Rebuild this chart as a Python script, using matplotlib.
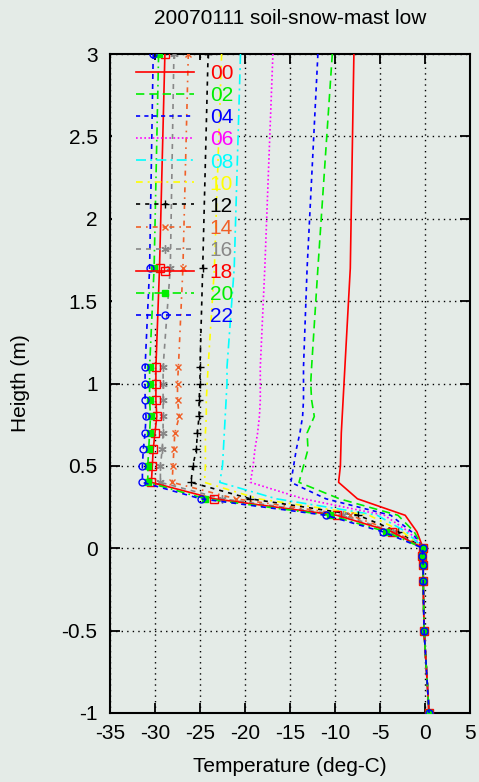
import matplotlib
matplotlib.use("Agg")
import matplotlib.pyplot as plt
from matplotlib.patches import Rectangle

plt.rcParams['font.family'] = ['Liberation Sans', 'DejaVu Sans']

BG = '#e4ebe7'

heights = [3.0, 1.7, 1.1, 1.0, 0.9, 0.8, 0.7, 0.6, 0.5, 0.4, 0.3, 0.2, 0.1,
           0.0, -0.05, -0.1, -0.2, -0.5, -1.0]

labels = ['00', '02', '04', '06', '08', '10', '12', '14', '16', '18', '20', '22']

t00 = [-7.9, -8.3, -8.9, -9.0, -9.1, -9.2, -9.3, -9.35, -9.4, -9.6, -7.5, -2.2, -0.9, -0.2, -0.3, -0.2, -0.2, -0.1, 0.45]
t02 = [-10.3, -11.9, -12.6, -12.7, -12.6, -12.3, -13.1, -13.0, -13.5, -14.0, -9.5, -3.0, -1.2, -0.2, -0.3, -0.2, -0.2, -0.1, 0.45]
t04 = [-11.9, -13.1, -13.5, -13.5, -13.5, -13.6, -13.9, -14.3, -14.6, -14.9, -11.0, -3.8, -1.5, -0.2, -0.3, -0.2, -0.2, -0.1, 0.45]
t06 = [-16.9, -17.8, -18.3, -18.3, -18.3, -18.4, -18.6, -18.9, -19.1, -19.4, -13.5, -4.5, -1.8, -0.2, -0.3, -0.2, -0.2, -0.1, 0.45]
t08 = [-20.5, -21.2, -22.0, -22.0, -22.1, -22.2, -22.3, -22.4, -22.5, -22.8, -16.5, -5.3, -2.1, -0.2, -0.3, -0.2, -0.2, -0.1, 0.45]
t10 = [-22.6, -23.4, -24.1, -24.2, -24.3, -24.3, -24.4, -24.4, -24.4, -24.5, -18.5, -6.2, -2.5, -0.2, -0.3, -0.2, -0.2, -0.1, 0.45]
t12 = [-24.1, -24.7, -25.0, -25.0, -25.1, -25.1, -25.3, -25.4, -25.8, -26.0, -19.4, -7.4, -3.0, -0.2, -0.3, -0.2, -0.2, -0.1, 0.45]
t14 = [-26.3, -26.9, -27.4, -27.5, -27.5, -27.3, -27.8, -27.9, -28.0, -28.1, -21.0, -8.3, -3.3, -0.2, -0.3, -0.2, -0.2, -0.1, 0.45]
t16 = [-27.9, -28.3, -29.1, -29.1, -29.1, -29.1, -29.1, -29.2, -29.4, -29.4, -22.5, -9.1, -3.5, -0.2, -0.3, -0.2, -0.2, -0.1, 0.45]
t18 = [-28.9, -29.5, -29.9, -29.9, -29.9, -29.8, -30.0, -30.2, -30.3, -30.4, -23.4, -9.8, -3.7, -0.2, -0.3, -0.2, -0.2, -0.1, 0.45]
t20 = [-29.6, -30.1, -30.6, -30.6, -30.6, -30.5, -30.6, -30.7, -30.8, -30.8, -24.4, -10.6, -4.3, -0.2, -0.3, -0.2, -0.2, -0.1, 0.45]
t22 = [-30.2, -30.6, -31.1, -31.1, -31.1, -31.0, -31.1, -31.3, -31.4, -31.4, -24.9, -11.0, -4.7, -0.2, -0.3, -0.2, -0.2, -0.1, 0.45]

series = [t00, t02, t04, t06, t08, t10, t12, t14, t16, t18, t20, t22]

xticks = [-35, -30, -25, -20, -15, -10, -5, 0, 5]
yticks = [-1, -0.5, 0, 0.5, 1, 1.5, 2, 2.5, 3]
yticklabels = ['-1', '-0.5', '0', '0.5', '1', '1.5', '2', '2.5', '3']

styles = [
    dict(color='#ff0000', ls='-', marker=None),
    dict(color='#00ee00', ls=(0, (5, 3)), marker=None),
    dict(color='#0000ff', ls=(0, (2.5, 2.5)), marker=None),
    dict(color='#ff00ff', ls=(0, (1, 1.5)), marker=None),
    dict(color='#00ffff', ls=(0, (6, 2.5, 1.2, 2.5)), marker=None),
    dict(color='#ffff00', ls=(0, (4, 3, 1.2, 3)), marker=None),
    dict(color='#000000', ls=(0, (2.5, 3)), marker='+', ms=6, mfc='none'),
    dict(color='#f06028', ls=(0, (3, 3, 1, 3)), marker='x', ms=5, mfc='none'),
    dict(color='#888888', ls=(0, (3, 3)), marker=(6, 2, 0), ms=6, mfc='none'),
    dict(color='#ff0000', ls='-', marker='s', ms=6, mfc='none'),
    dict(color='#00ee00', ls=(0, (5, 2.5, 1, 2.5)), marker='s', ms=4.5, mfc='#00ee00'),
    dict(color='#0000ff', ls=(0, (3, 3)), marker='o', ms=5, mfc='none'),
]

fig = plt.figure(figsize=(4.79, 7.82), dpi=100, facecolor=BG)
ax = fig.add_axes([110/479, 1-713/782, 360/479, 659/782])
ax.set_facecolor(BG)
ax.set_axisbelow(True)

handles = []
for lab, vals, st in zip(labels, series, styles):
    kw = dict(color=st['color'], linestyle=st['ls'], linewidth=1.2, zorder=3)
    if st['marker'] is not None:
        kw.update(marker=st['marker'], markersize=st['ms'],
                  markerfacecolor=st['mfc'], markeredgecolor=st['color'],
                  markeredgewidth=1.0)
    h, = ax.plot(vals, heights, label=lab, **kw)
    handles.append(h)

ax.set_xlim(-35, 5)
ax.set_ylim(-1, 3)
ax.set_xticks(xticks)
ax.set_yticks(yticks)
ax.set_xticklabels([str(v) for v in xticks])
ax.set_yticklabels(yticklabels)
ax.grid(True, color='black', linestyle=(0, (1, 3)), linewidth=1.0)
ax.tick_params(direction='in', length=7, width=1.3, top=True, right=True,
               labelsize=15, colors='black')
ax.tick_params(axis='x', pad=8)
ax.tick_params(axis='y', pad=9)
for sp in ax.spines.values():
    sp.set_linewidth(1.5)

# key background hiding the grid
ax.add_patch(Rectangle(((112-110)/360, 1-(328-54)/659), (236-112)/360, (328-60)/659,
                       transform=ax.transAxes, facecolor=BG, edgecolor='none', zorder=1))

leg = ax.legend(handles=handles, loc='upper left',
                bbox_to_anchor=((135.7-110)/360, 1-(64-54)/659),
                frameon=False, fontsize=15, handlelength=2.8, handletextpad=0.75,
                labelspacing=0.15, borderpad=0, borderaxespad=0, numpoints=1)
for txt, st in zip(leg.get_texts(), styles):
    txt.set_color(st['color'])

fig.text(290/479, 1-18/782, '20070111 soil-snow-mast low', fontsize=15,
         ha='center', va='center')
ax.set_xlabel('Temperature (deg-C)', fontsize=15, labelpad=10)
ax.set_ylabel('Heigth (m)', fontsize=15)
ax.yaxis.set_label_coords(-(110-30)/360, 0.5)

fig.savefig('out.png', dpi=100, facecolor=BG)
